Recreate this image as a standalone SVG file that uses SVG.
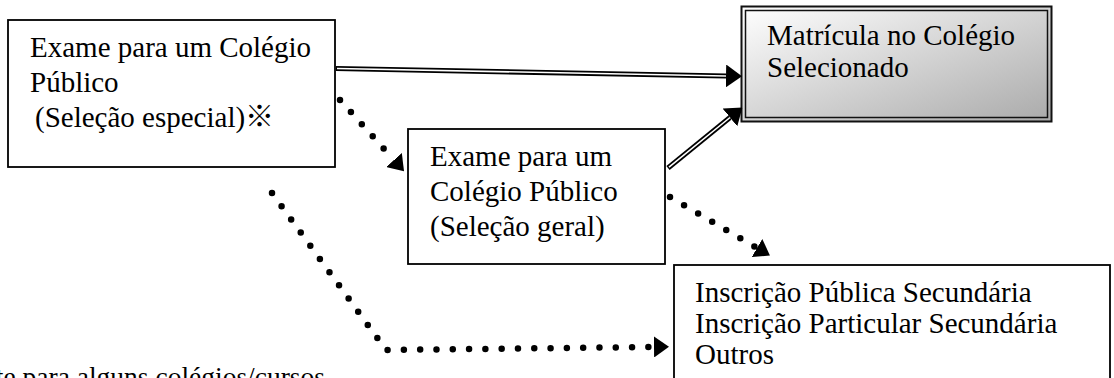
<svg xmlns="http://www.w3.org/2000/svg" width="1114" height="378" viewBox="0 0 1114 378">
  <style>
    .box { fill: #ffffff; stroke: #000000; stroke-width: 1.8; }
    .txt { font-family: "Liberation Serif", "Times New Roman", "Noto Sans CJK JP", serif; font-size: 29px; fill: #000000; }
    .note { font-size: 27.5px; }
    .dbl-outer { fill: none; stroke: #000000; stroke-width: 5.2; }
    .dbl-inner { fill: none; stroke: #ffffff; stroke-width: 1.6; }
    .dots { fill: none; stroke: #000000; stroke-width: 6.5; stroke-linecap: round; stroke-linejoin: round; stroke-dasharray: 0 16.3; }
  </style>
  <defs>
    <linearGradient id="grad" x1="0" y1="0" x2="1" y2="1">
      <stop offset="0" stop-color="#ffffff"/>
      <stop offset="1" stop-color="#aaaaaa"/>
    </linearGradient>
    <marker id="headBig" viewBox="0 0 16 23" refX="0" refY="11.5" markerWidth="16" markerHeight="23" markerUnits="userSpaceOnUse" orient="auto">
      <path d="M0,0 L16,11.5 L0,23 Z" fill="#000000"/>
    </marker>
    <marker id="headDot" viewBox="0 0 15 21" refX="0" refY="10.5" markerWidth="15" markerHeight="21" markerUnits="userSpaceOnUse" orient="auto">
      <path d="M0,0 L15,10.5 L0,21 Z" fill="#000000"/>
    </marker>
  </defs>

  <g id="node-exame-especial">
    <rect class="box" x="8" y="20" width="327" height="147"/>
    <text class="txt" x="30" y="57">Exame para um Colégio</text>
    <text class="txt" x="30" y="92">Público</text>
    <text class="txt" x="35" y="127">(Seleção especial)※</text>
  </g>

  <g id="node-matricula">
    <rect x="741.5" y="6.5" width="310" height="115" fill="url(#grad)" stroke="#111111" stroke-width="2"/>
    <rect x="745.5" y="10.5" width="302" height="107" fill="none" stroke="#111111" stroke-width="1.5"/>
    <text class="txt" x="767" y="45">Matrícula no Colégio</text>
    <text class="txt" x="767" y="77">Selecionado</text>
  </g>

  <g id="node-exame-geral">
    <rect class="box" x="408" y="129" width="257" height="135"/>
    <text class="txt" x="430" y="166">Exame para um</text>
    <text class="txt" x="430" y="201">Colégio Público</text>
    <text class="txt" x="430" y="236">(Seleção geral)</text>
  </g>

  <g id="node-inscricao">
    <rect class="box" x="674" y="265" width="436" height="130"/>
    <text class="txt" x="695" y="302">Inscrição Pública Secundária</text>
    <text class="txt" x="695" y="333">Inscrição Particular Secundária</text>
    <text class="txt" x="695" y="364">Outros</text>
  </g>

  <g id="note">
    <text class="txt note" x="325" y="386" text-anchor="end">te para alguns colégios/cursos</text>
  </g>

  <g id="connectors">
    <path class="dbl-outer" d="M336,68.5 L726,76" marker-end="url(#headBig)"/>
    <path class="dbl-inner" d="M337,68.5 L726,76"/>
    <path class="dbl-outer" d="M668,168 L730,117.5" marker-end="url(#headBig)"/>
    <path class="dbl-inner" d="M669,167.2 L730,117.5"/>
    <path class="dots" d="M340,100 L394,160" marker-end="url(#headDot)"/>
    <path class="dots" d="M670,197 L757,248" marker-end="url(#headDot)"/>
    <path class="dots" d="M272,193 L386,350 L654,347" marker-end="url(#headDot)"/>
  </g>
</svg>
